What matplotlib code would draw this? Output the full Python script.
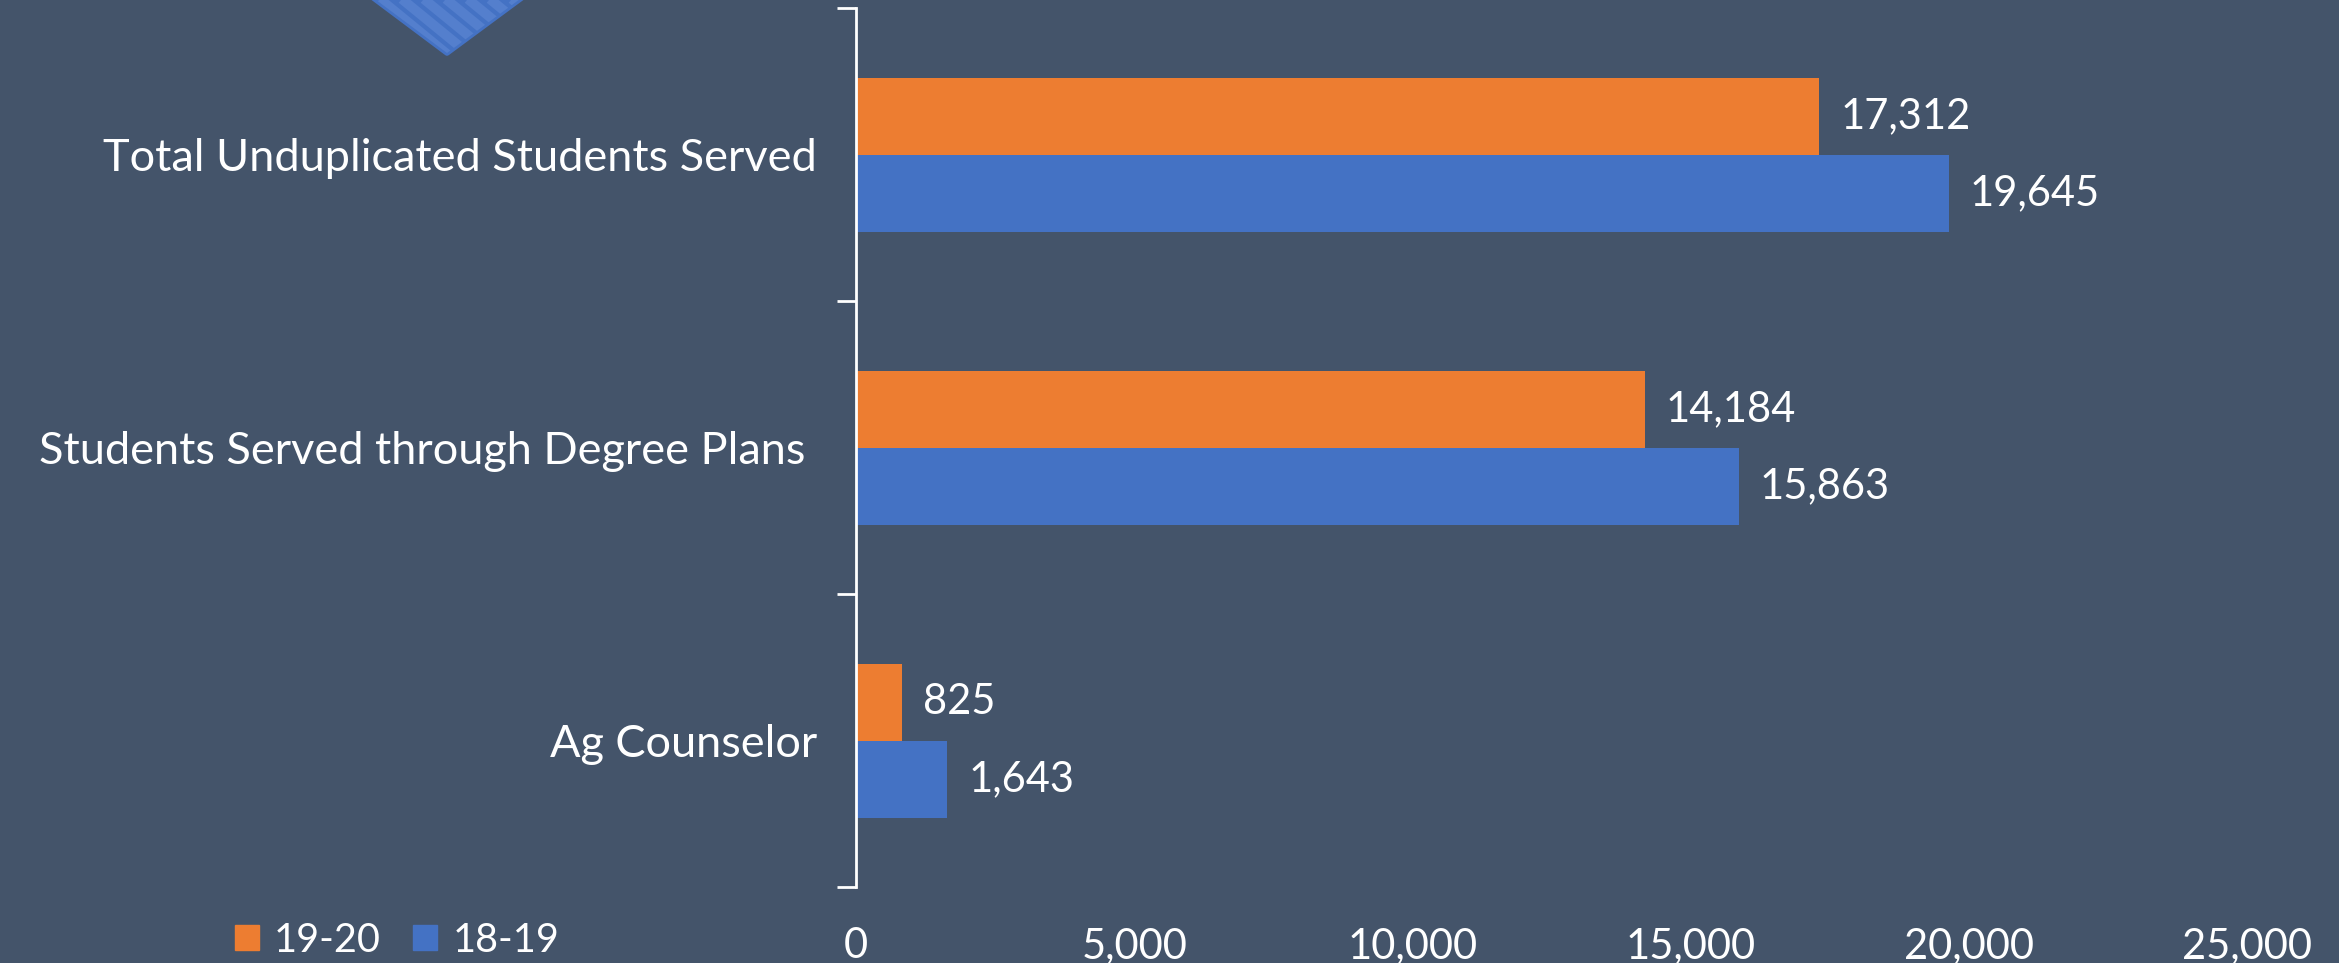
import matplotlib
matplotlib.use("Agg")
import matplotlib.pyplot as plt
from matplotlib.patches import Polygon, Patch
import numpy as np

categories = ["Total Unduplicated Students Served", "Students Served through Degree Plans ", "Ag Counselor"]
series_names = ["19-20", "18-19"]
values_1920 = [17312, 14184, 825]
values_1819 = [19645, 15863, 1643]
xticks = [0, 5000, 10000, 15000, 20000, 25000]

BG = "#44546A"
ORANGE = "#ED7D31"
BLUE = "#4472C4"
FONT = "Lato"
FS = 30

W, H = 2339, 963
fig = plt.figure(figsize=(W/100, H/100), dpi=100, facecolor=BG)

# decorative diamond (figure pixel coordinates)
deco = fig.add_axes([0, 0, 1, 1], zorder=-1)
deco.set_xlim(0, W); deco.set_ylim(H, 0); deco.axis("off")
diamond = Polygon([(296, -60), (447, 53), (600, -60)], closed=True, facecolor=BLUE,
                  edgecolor=BLUE, linewidth=4, joinstyle="round")
deco.add_patch(diamond)
for k in range(-14, 14):
    x0 = 447 + k * 22
    ln, = deco.plot([x0 - 110, x0 + 110], [-90, 90], color="#547FCD", linewidth=7,
                    solid_capstyle="butt")
    ln.set_clip_path(diamond)

ax = fig.add_axes([856/W, 1 - 887/H, (2247-856)/W, (887-8.5)/H])
ax.set_facecolor("none")
n = len(categories)
ypos = np.arange(n)[::-1]
h = 0.263
b1 = ax.barh(ypos + h/2, values_1920, height=h, color=ORANGE, label=series_names[0])
b2 = ax.barh(ypos - h/2, values_1819, height=h, color=BLUE, label=series_names[1])
for bars, vals in ((b1, values_1920), (b2, values_1819)):
    ax.bar_label(bars, labels=[f"{v:,}" for v in vals], padding=15, color="white",
                 fontsize=FS, fontfamily=FONT)

ax.set_xlim(0, 25000)
ax.set_ylim(-0.5, n - 0.5)
ax.set_yticks(ypos)
ax.set_yticklabels(categories, fontsize=32.5, fontfamily=FONT, color="white")
ax.set_yticks(np.arange(-0.5, n, 1.0), minor=True)
ax.tick_params(axis="y", which="major", length=0, pad=28)
ax.tick_params(axis="y", which="minor", length=14, width=2, color="white", direction="out")
ax.set_xticks(xticks)
ax.set_xticklabels([f"{t:,}" for t in xticks], fontsize=FS, fontfamily=FONT, color="white")
ax.tick_params(axis="x", length=0, pad=29)
for s in ("top", "right", "bottom"):
    ax.spines[s].set_visible(False)
ax.spines["left"].set_color("white")
ax.spines["left"].set_linewidth(2)

handles = [Patch(color=ORANGE, label=series_names[0]), Patch(color=BLUE, label=series_names[1])]
fig.legend(handles=handles, loc="center", bbox_to_anchor=(397/W, 1 - 940/H), ncol=2,
           frameon=False, handlelength=0.6, handleheight=0.6, handletextpad=0.38,
           columnspacing=0.83, borderpad=0, prop={"family": FONT, "size": 28.5}, labelcolor="white")

fig.savefig("out.png", dpi=100, facecolor=BG)
